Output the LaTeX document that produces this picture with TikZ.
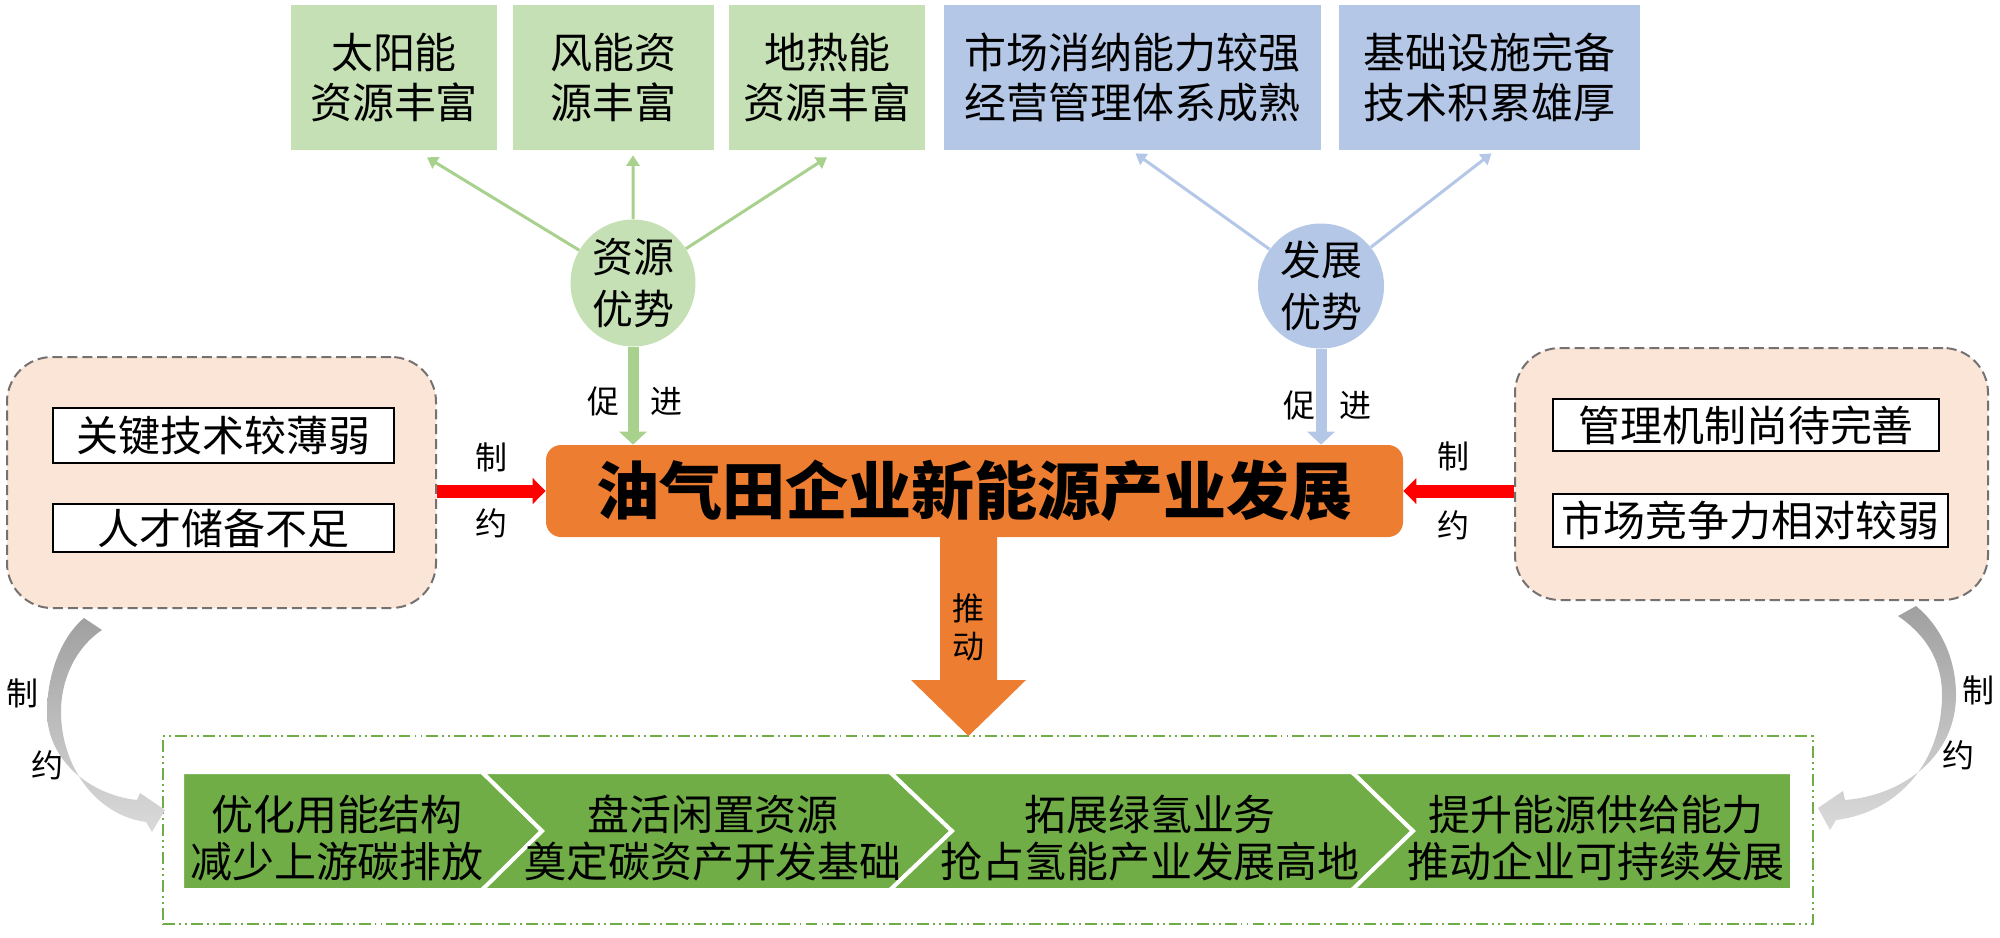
\documentclass[tikz,border=0pt]{standalone}
\usepackage{fontspec}
\setmainfont{Noto Sans CJK SC}
\usetikzlibrary{arrows.meta,shapes.geometric,calc}
\newdimen\px \px=0.02cm
\definecolor{lgreen}{HTML}{C5E0B4}
\definecolor{lblue}{HTML}{B4C7E7}
\definecolor{agreen}{HTML}{A9D18E}
\definecolor{ablue}{HTML}{B4C7E7}
\definecolor{myorange}{HTML}{ED7D31}
\definecolor{peach}{HTML}{FBE5D6}
\definecolor{dgray}{HTML}{767171}
\definecolor{cgreen}{HTML}{70AD47}
\definecolor{gdark}{HTML}{A0A0A0}
\definecolor{glight}{HTML}{DADADA}
\newcommand{\FMid}{\fontsize{23.9pt}{28.5pt}\selectfont}
\newcommand{\FEll}{\fontsize{23.3pt}{29.6pt}\selectfont}
\newcommand{\FBig}{\fontsize{35.9pt}{40pt}\selectfont}
\newcommand{\FSm}{\fontsize{18.2pt}{22pt}\selectfont}
\newcommand{\FChev}{\fontsize{23.9pt}{26.7pt}\selectfont}
\begin{document}
\begin{tikzpicture}[x=0.02cm,y=-0.02cm,
  topbox/.style={minimum height=145\px, inner sep=0pt, align=center, font=\FMid},
  ellbox/.style={ellipse, inner sep=0pt},
  elltext/.style={align=center, font=\FEll, inner sep=0pt},
  lbl/.style={font=\FSm, inner sep=0pt},
  peachbox/.style={draw=dgray, fill=peach, line width=2\px, dash pattern=on 5.7pt off 2.8pt, rounded corners=45\px},
  itembox/.style={draw=black, fill=white, line width=1.5\px, inner sep=0pt, font=\FMid},
  thing/.style={line width=3\px, -{Triangle[length=6pt,width=7.5pt]}},
  thick/.style={line width=11\px, -{Triangle[length=7.4pt,width=15.4pt]}},
  redarr/.style={red, line width=13\px, -{Triangle[length=7.4pt,width=14.5pt]}},
  chev/.style={fill=cgreen, draw=white, line width=4\px, line join=miter},
  chevtext/.style={align=center, font=\FChev, inner sep=0pt}]
\useasboundingbox (0,0) rectangle (2000,937);

% top boxes
\node[topbox, fill=lgreen, minimum width=206\px] (g1) at (394,77.5) {太阳能\\资源丰富};
\node[topbox, fill=lgreen, minimum width=201\px] (g2) at (613.5,77.5) {风能资\\源丰富};
\node[topbox, fill=lgreen, minimum width=196\px] (g3) at (827,77.5) {地热能\\资源丰富};
\node[topbox, fill=lblue, minimum width=377\px] (b1) at (1132.5,77.5) {市场消纳能力较强\\经营管理体系成熟};
\node[topbox, fill=lblue, minimum width=301\px] (b2) at (1489.5,77.5) {基础设施完备\\技术积累雄厚};

% ellipses
\node[ellbox, fill=lgreen, minimum width=125\px, minimum height=127\px] (e1) at (633,283) {};
\node[elltext] (e1t) at (e1.center) {资源\\优势};
\node[ellbox, fill=lblue, minimum width=126\px, minimum height=125\px] (e2) at (1321,286) {};
\node[elltext] (e2t) at (e2.center) {发展\\优势};

% thin arrows
\draw[thing, agreen] (e1) -- ($(g1.south)+(33,7)$);
\draw[thing, agreen] (e1) -- ($(g2.south)+(19.5,5)$);
\draw[thing, agreen] (e1) -- ($(g3.south)+(0,7)$);
\draw[thing, ablue] (e2) -- ($(b1.south)+(3,3)$);
\draw[thing, ablue] (e2) -- ($(b2.south)+(2,3)$);

% main box
\node[fill=myorange, rounded corners=15\px, minimum width=857\px, minimum height=92\px, inner sep=0pt, font=\FBig\bfseries] (main) at (974.5,491) {油气田企业新能源产业发展};

% thick arrows
\draw[thick, agreen] (e1.south) -- (e1.south |- main.north);
\draw[thick, ablue] (e2.south) -- (e2.south |- main.north);
\node[lbl] (p1) at (603,401) {促};
\node[lbl] (p2) at (666,401) {进};
\node[lbl] (p3) at (1299,405) {促};
\node[lbl] (p4) at (1355,405) {进};

% side boxes
\node[peachbox, minimum width=429\px, minimum height=251\px] (lbox) at (221.5,482.5) {};
\node[itembox, minimum width=341\px, minimum height=55\px] (l1) at (223.5,435.5) {关键技术较薄弱};
\node[itembox, minimum width=341\px, minimum height=48\px] (l2) at (223.5,528) {人才储备不足};
\node[peachbox, minimum width=473\px, minimum height=252\px] (rbox) at (1751.5,474) {};
\node[itembox, minimum width=386\px, minimum height=52\px] (r1) at (1746,425) {管理机制尚待完善};
\node[itembox, minimum width=395\px, minimum height=53\px] (r2) at (1750.5,520.5) {市场竞争力相对较弱};

% red arrows
\draw[redarr] (main.west -| lbox.east) -- (main.west);
\draw[redarr] (main.east -| rbox.west) -- (main.east);
\node[lbl] (z1) at (491,457) {制};
\node[lbl] (z2) at (491,523) {约};
\node[lbl] (z3) at (1453,456) {制};
\node[lbl] (z4) at (1453,525) {约};

% bottom dash-dot box
\node[draw=cgreen, line width=1.5\px, dash pattern=on 6.8pt off 2.3pt on 1.1pt off 2.3pt on 1.1pt off 2.3pt, minimum width=1650\px, minimum height=188\px] (bbox) at (988,830) {};

% push arrow
\coordinate (pushtip) at (968.5,736);
\fill[myorange] ($(main.south)+(-34.5,-3)$) -- ($(main.south)+(22.5,-3)$) -- (997,680) -- (1026,680) -- (pushtip) -- (911,680) -- (940,680) -- cycle;
\node[lbl] (t1) at (968.5,608) {推};
\node[lbl] (t2) at (968.5,647) {动};

% chevrons
\filldraw[chev] (182,772) -- (482,772) -- (542,831) -- (482,890) -- (182,890) -- cycle;
\filldraw[chev] (482,772) -- (890,772) -- (952,831) -- (890,890) -- (482,890) -- (542,831) -- cycle;
\filldraw[chev] (890,772) -- (1352,772) -- (1413,831) -- (1352,890) -- (890,890) -- (952,831) -- cycle;
\filldraw[chev] (1352,772) -- (1792,772) -- (1792,890) -- (1352,890) -- (1413,831) -- cycle;
\node[chevtext] (c1) at (337,838) {优化用能结构\\减少上游碳排放};
\node[chevtext] (c2) at (713,838) {盘活闲置资源\\奠定碳资产开发基础};
\node[chevtext] (c3) at (1150,838) {拓展绿氢业务\\抢占氢能产业发展高地};
\node[chevtext] (c4) at (1596,838) {提升能源供给能力\\推动企业可持续发展};

% gray curved arrows
\shade[top color=gdark, bottom color=glight]
  (84,618) .. controls (58,640) and (47,680) .. (47,712)
  .. controls (47,760) and (90,795) .. (137,800)
  -- (140,793) -- (165,810) -- (152,832) -- (146,822)
  .. controls (95,815) and (61,765) .. (61,712)
  .. controls (61,680) and (75,648) .. (102,630) -- cycle;
\shade[top color=gdark, bottom color=glight]
  (1916,606) .. controls (1945,630) and (1956,665) .. (1956,695)
  .. controls (1956,755) and (1905,795) .. (1845,800)
  -- (1843,791) -- (1818,808) -- (1830,830) -- (1836,820)
  .. controls (1900,812) and (1942,760) .. (1942,695)
  .. controls (1942,665) and (1930,638) .. (1898,616) -- cycle;
\node[lbl] (y1) at (22,693) {制};
\node[lbl] (y2) at (47,765) {约};
\node[lbl] (y3) at (1978,690) {制};
\node[lbl] (y4) at (1958,755) {约};
\end{tikzpicture}
\end{document}
